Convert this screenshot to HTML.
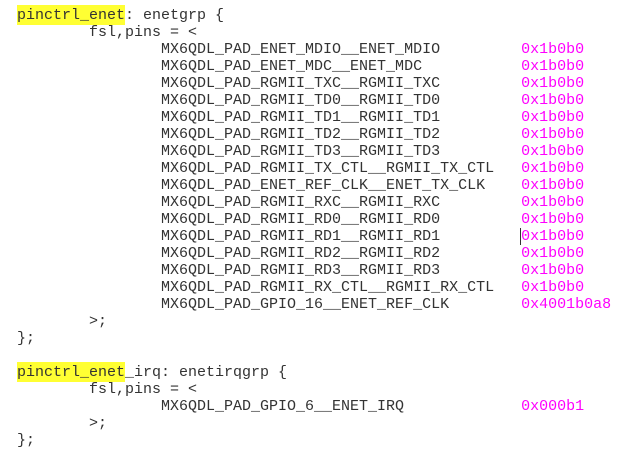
<!DOCTYPE html>
<html><head><style>
html,body{margin:0;padding:0;background:#fff;width:641px;height:457px;overflow:hidden}
pre{position:absolute;left:17px;top:7px;margin:0;font-family:"Liberation Mono","DejaVu Sans Mono",monospace;font-size:15px;line-height:17px;color:#333}
.h{background:#ffff33;padding:2px 0 1px}
.m{color:#ff00ff}
.c{border-left:1px solid #333;margin-left:-1px}
</style></head><body>
<pre><span class="h">pinctrl_enet</span>: enetgrp {
        fsl,pins = &lt;
                MX6QDL_PAD_ENET_MDIO__ENET_MDIO         <span class="m">0x1b0b0</span>
                MX6QDL_PAD_ENET_MDC__ENET_MDC           <span class="m">0x1b0b0</span>
                MX6QDL_PAD_RGMII_TXC__RGMII_TXC         <span class="m">0x1b0b0</span>
                MX6QDL_PAD_RGMII_TD0__RGMII_TD0         <span class="m">0x1b0b0</span>
                MX6QDL_PAD_RGMII_TD1__RGMII_TD1         <span class="m">0x1b0b0</span>
                MX6QDL_PAD_RGMII_TD2__RGMII_TD2         <span class="m">0x1b0b0</span>
                MX6QDL_PAD_RGMII_TD3__RGMII_TD3         <span class="m">0x1b0b0</span>
                MX6QDL_PAD_RGMII_TX_CTL__RGMII_TX_CTL   <span class="m">0x1b0b0</span>
                MX6QDL_PAD_ENET_REF_CLK__ENET_TX_CLK    <span class="m">0x1b0b0</span>
                MX6QDL_PAD_RGMII_RXC__RGMII_RXC         <span class="m">0x1b0b0</span>
                MX6QDL_PAD_RGMII_RD0__RGMII_RD0         <span class="m">0x1b0b0</span>
                MX6QDL_PAD_RGMII_RD1__RGMII_RD1         <span class="m c">0x1b0b0</span>
                MX6QDL_PAD_RGMII_RD2__RGMII_RD2         <span class="m">0x1b0b0</span>
                MX6QDL_PAD_RGMII_RD3__RGMII_RD3         <span class="m">0x1b0b0</span>
                MX6QDL_PAD_RGMII_RX_CTL__RGMII_RX_CTL   <span class="m">0x1b0b0</span>
                MX6QDL_PAD_GPIO_16__ENET_REF_CLK        <span class="m">0x4001b0a8</span>
        &gt;;
};

<span class="h">pinctrl_enet</span>_irq: enetirqgrp {
        fsl,pins = &lt;
                MX6QDL_PAD_GPIO_6__ENET_IRQ             <span class="m">0x000b1</span>
        &gt;;
};</pre>
</body></html>
